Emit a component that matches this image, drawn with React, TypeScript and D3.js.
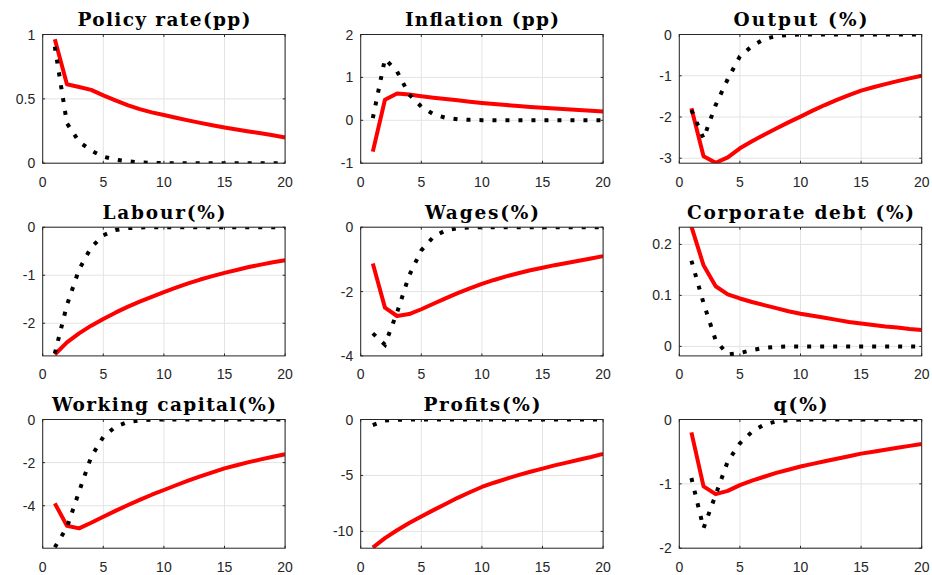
import React from "react";
import * as d3 from "d3";

const periods = [1, 2, 3, 4, 5, 6, 7, 8, 9, 10, 11, 12, 13, 14, 15, 16, 17, 18, 19, 20];
const xTicks = [0, 5, 10, 15, 20];

const titles = [
  "Policy rate(pp)", "Inflation (pp)", "Output (%)",
  "Labour(%)", "Wages(%)", "Corporate debt (%)",
  "Working capital(%)", "Profits(%)", "q(%)",
];

const yDomains: [number, number][] = [
  [0, 1], [-1, 2], [-3.12, 0],
  [-2.68, 0], [-4, 0], [-0.0186, 0.2337],
  [-5.97, 0], [-11.5, 0], [-2, 0],
];

const yTicks = [
  [0, 0.5, 1], [-1, 0, 1, 2], [-3, -2, -1, 0],
  [-2, -1, 0], [-4, -2, 0], [0, 0.1, 0.2],
  [-4, -2, 0], [-10, -5, 0], [-2, -1, 0],
];

const policyRed = [0.963, 0.613, 0.592, 0.57, 0.527, 0.488, 0.452, 0.42, 0.395, 0.375, 0.353, 0.333, 0.313, 0.295, 0.278, 0.262, 0.247, 0.232, 0.217, 0.2];
const policyBlack = [0.905, 0.31, 0.168, 0.098, 0.051, 0.028, 0.015, 0.007, 0.003, 0.001, 0, 0, 0, 0, 0, 0, 0, 0, 0, 0];

const inflationRed = [-0.73, 0.48, 0.625, 0.6, 0.56, 0.525, 0.495, 0.465, 0.435, 0.405, 0.38, 0.355, 0.333, 0.312, 0.292, 0.273, 0.255, 0.238, 0.222, 0.205];
const inflationBlack = [0.05, 1.43, 1.14, 0.6, 0.32, 0.14, 0.06, 0.025, 0.01, 0.004, 0, 0, 0, 0, 0, 0, 0, 0, 0, 0];

const outputRed = [-1.79, -2.95, -3.11, -2.98, -2.76, -2.59, -2.43, -2.28, -2.13, -1.99, -1.845, -1.71, -1.585, -1.469, -1.362, -1.28, -1.204, -1.131, -1.063, -1.0];
const outputBlack = [-1.83, -2.52, -1.71, -1.08, -0.53, -0.28, -0.11, -0.04, -0.01, 0, 0, 0, 0, 0, 0, 0, 0, 0, 0, 0];

const labourRed = [-2.65, -2.4, -2.21, -2.05, -1.91, -1.78, -1.66, -1.55, -1.45, -1.35, -1.26, -1.17, -1.09, -1.02, -0.95, -0.89, -0.83, -0.78, -0.73, -0.69];
const labourBlack = [-2.63, -1.62, -0.88, -0.42, -0.17, -0.06, -0.02, -0.005, 0, 0, 0, 0, 0, 0, 0, 0, 0, 0, 0, 0];

const wagesRed = [-1.13, -2.5, -2.76, -2.7, -2.55, -2.38, -2.21, -2.05, -1.9, -1.76, -1.64, -1.53, -1.43, -1.34, -1.26, -1.18, -1.11, -1.04, -0.97, -0.9];
const wagesBlack = [-3.3, -3.65, -2.65, -1.5, -0.72, -0.3, -0.1, -0.03, -0.01, 0, 0, 0, 0, 0, 0, 0, 0, 0, 0, 0];

const debtRed = [0.235, 0.159, 0.118, 0.102, 0.094, 0.087, 0.081, 0.075, 0.069, 0.064, 0.06, 0.056, 0.052, 0.048, 0.045, 0.042, 0.039, 0.037, 0.034, 0.032];
const debtBlack = [0.168, 0.085, 0.012, -0.016, -0.013, -0.007, -0.003, -0.001, 0, 0, 0, 0, 0, 0, 0, 0, 0, 0, 0, 0];

const workingRed = [-3.89, -4.93, -5.05, -4.79, -4.51, -4.24, -3.98, -3.73, -3.49, -3.27, -3.05, -2.84, -2.64, -2.45, -2.27, -2.12, -1.98, -1.85, -1.73, -1.61];
const workingBlack = [-5.93, -5.0, -3.35, -1.73, -0.81, -0.34, -0.12, -0.04, -0.01, 0, 0, 0, 0, 0, 0, 0, 0, 0, 0, 0];

const profitsRed = [-11.44, -10.6, -9.9, -9.25, -8.66, -8.1, -7.55, -7.0, -6.5, -6.03, -5.65, -5.3, -4.97, -4.67, -4.39, -4.1, -3.85, -3.6, -3.35, -3.07];
const profitsBlack = [-0.5, -0.1, -0.02, 0, 0, 0, 0, 0, 0, 0, 0, 0, 0, 0, 0, 0, 0, 0, 0, 0];

const qRed = [-0.2, -1.04, -1.16, -1.11, -1.02, -0.95, -0.89, -0.83, -0.78, -0.73, -0.69, -0.65, -0.61, -0.57, -0.53, -0.5, -0.47, -0.44, -0.41, -0.38];
const qBlack = [-0.91, -1.69, -1.17, -0.65, -0.37, -0.19, -0.08, -0.03, -0.01, 0, 0, 0, 0, 0, 0, 0, 0, 0, 0, 0];

const redSeries = [policyRed, inflationRed, outputRed, labourRed, wagesRed, debtRed, workingRed, profitsRed, qRed];
const blackSeries = [policyBlack, inflationBlack, outputBlack, labourBlack, wagesBlack, debtBlack, workingBlack, profitsBlack, qBlack];

// layout
const W = 932;
const H = 575;
const colLefts = [42.7, 360.7, 679.3];
const rowTops = [34.5, 227.2, 419.5];
const plotW = 242.4;
const plotH = 128.7;
const titleWidths = [173, 154, 134, 123, 114, 227, 224, 117, 54];

const axisColor = "#262626";
const gridColor = "#e3e3e3";
const tickFont = "'Liberation Sans', Arial, Helvetica, sans-serif";
const titleFont = "'DejaVu Serif', serif";

function fmt(v: number) {
  return String(Math.round(v * 1000) / 1000);
}

function Panel({ idx }: { idx: number }) {
  const col = idx % 3;
  const row = Math.floor(idx / 3);
  const left = colLefts[col];
  const top = rowTops[row];
  const x = d3.scaleLinear().domain([0, 20]).range([left, left + plotW]);
  const y = d3.scaleLinear().domain(yDomains[idx]).range([top + plotH, top]);
  const line = d3
    .line<number>()
    .x((_, i) => x(periods[i]))
    .y((d) => y(d));
  const clipId = `clip-${idx}`;
  const tl = 2.4;
  const cx = left + plotW / 2;
  const tw = titleWidths[idx];
  return (
    <g>
      <defs>
        <clipPath id={clipId}>
          <rect x={left} y={top} width={plotW} height={plotH} />
        </clipPath>
      </defs>
      <rect x={left} y={top} width={plotW} height={plotH} fill="#fff" />
      {xTicks.map((t) => (
        <line key={"gx" + t} x1={x(t)} x2={x(t)} y1={top} y2={top + plotH} stroke={gridColor} strokeWidth={1} />
      ))}
      {yTicks[idx].map((t) => (
        <line key={"gy" + t} x1={left} x2={left + plotW} y1={y(t)} y2={y(t)} stroke={gridColor} strokeWidth={1} />
      ))}
      <g clipPath={`url(#${clipId})`}>
        <path d={line(redSeries[idx]) || ""} fill="none" stroke="#ff0000" strokeWidth={4} strokeLinejoin="round" />
        <path d={line(blackSeries[idx]) || ""} fill="none" stroke="#000" strokeWidth={4} strokeDasharray="4 9" />
      </g>
      <rect x={left} y={top} width={plotW} height={plotH} fill="none" stroke={axisColor} strokeWidth={1} />
      {xTicks.map((t) => (
        <g key={"tx" + t}>
          <line x1={x(t)} x2={x(t)} y1={top + plotH} y2={top + plotH - tl} stroke={axisColor} />
          <line x1={x(t)} x2={x(t)} y1={top} y2={top + tl} stroke={axisColor} />
          <text x={x(t)} y={top + plotH + 23.4} textAnchor="middle" fontFamily={tickFont} fontSize={14} fill={axisColor}>
            {fmt(t)}
          </text>
        </g>
      ))}
      {yTicks[idx].map((t) => (
        <g key={"ty" + t}>
          <line x1={left} x2={left + tl} y1={y(t)} y2={y(t)} stroke={axisColor} />
          <line x1={left + plotW} x2={left + plotW - tl} y1={y(t)} y2={y(t)} stroke={axisColor} />
          <text x={left - 7.5} y={y(t)} dy="0.36em" textAnchor="end" fontFamily={tickFont} fontSize={14} fill={axisColor}>
            {fmt(t)}
          </text>
        </g>
      ))}
      <text
        x={cx - tw / 2}
        y={top - 8.5}
        textAnchor="start"
        textLength={tw}
        lengthAdjust="spacing"
        fontFamily={titleFont}
        fontWeight="bold"
        fontSize={18.5}
        fill="#000"
      >
        {titles[idx]}
      </text>
    </g>
  );
}

export default function App() {
  return (
    <svg
      width={W}
      height={H}
      viewBox={`0 0 ${W} ${H}`}
      style={{ position: "absolute", left: 0, top: 0, display: "block", background: "#fff" }}
    >
      <rect width={W} height={H} fill="#fff" />
      {titles.map((_, i) => (
        <Panel key={i} idx={i} />
      ))}
    </svg>
  );
}
